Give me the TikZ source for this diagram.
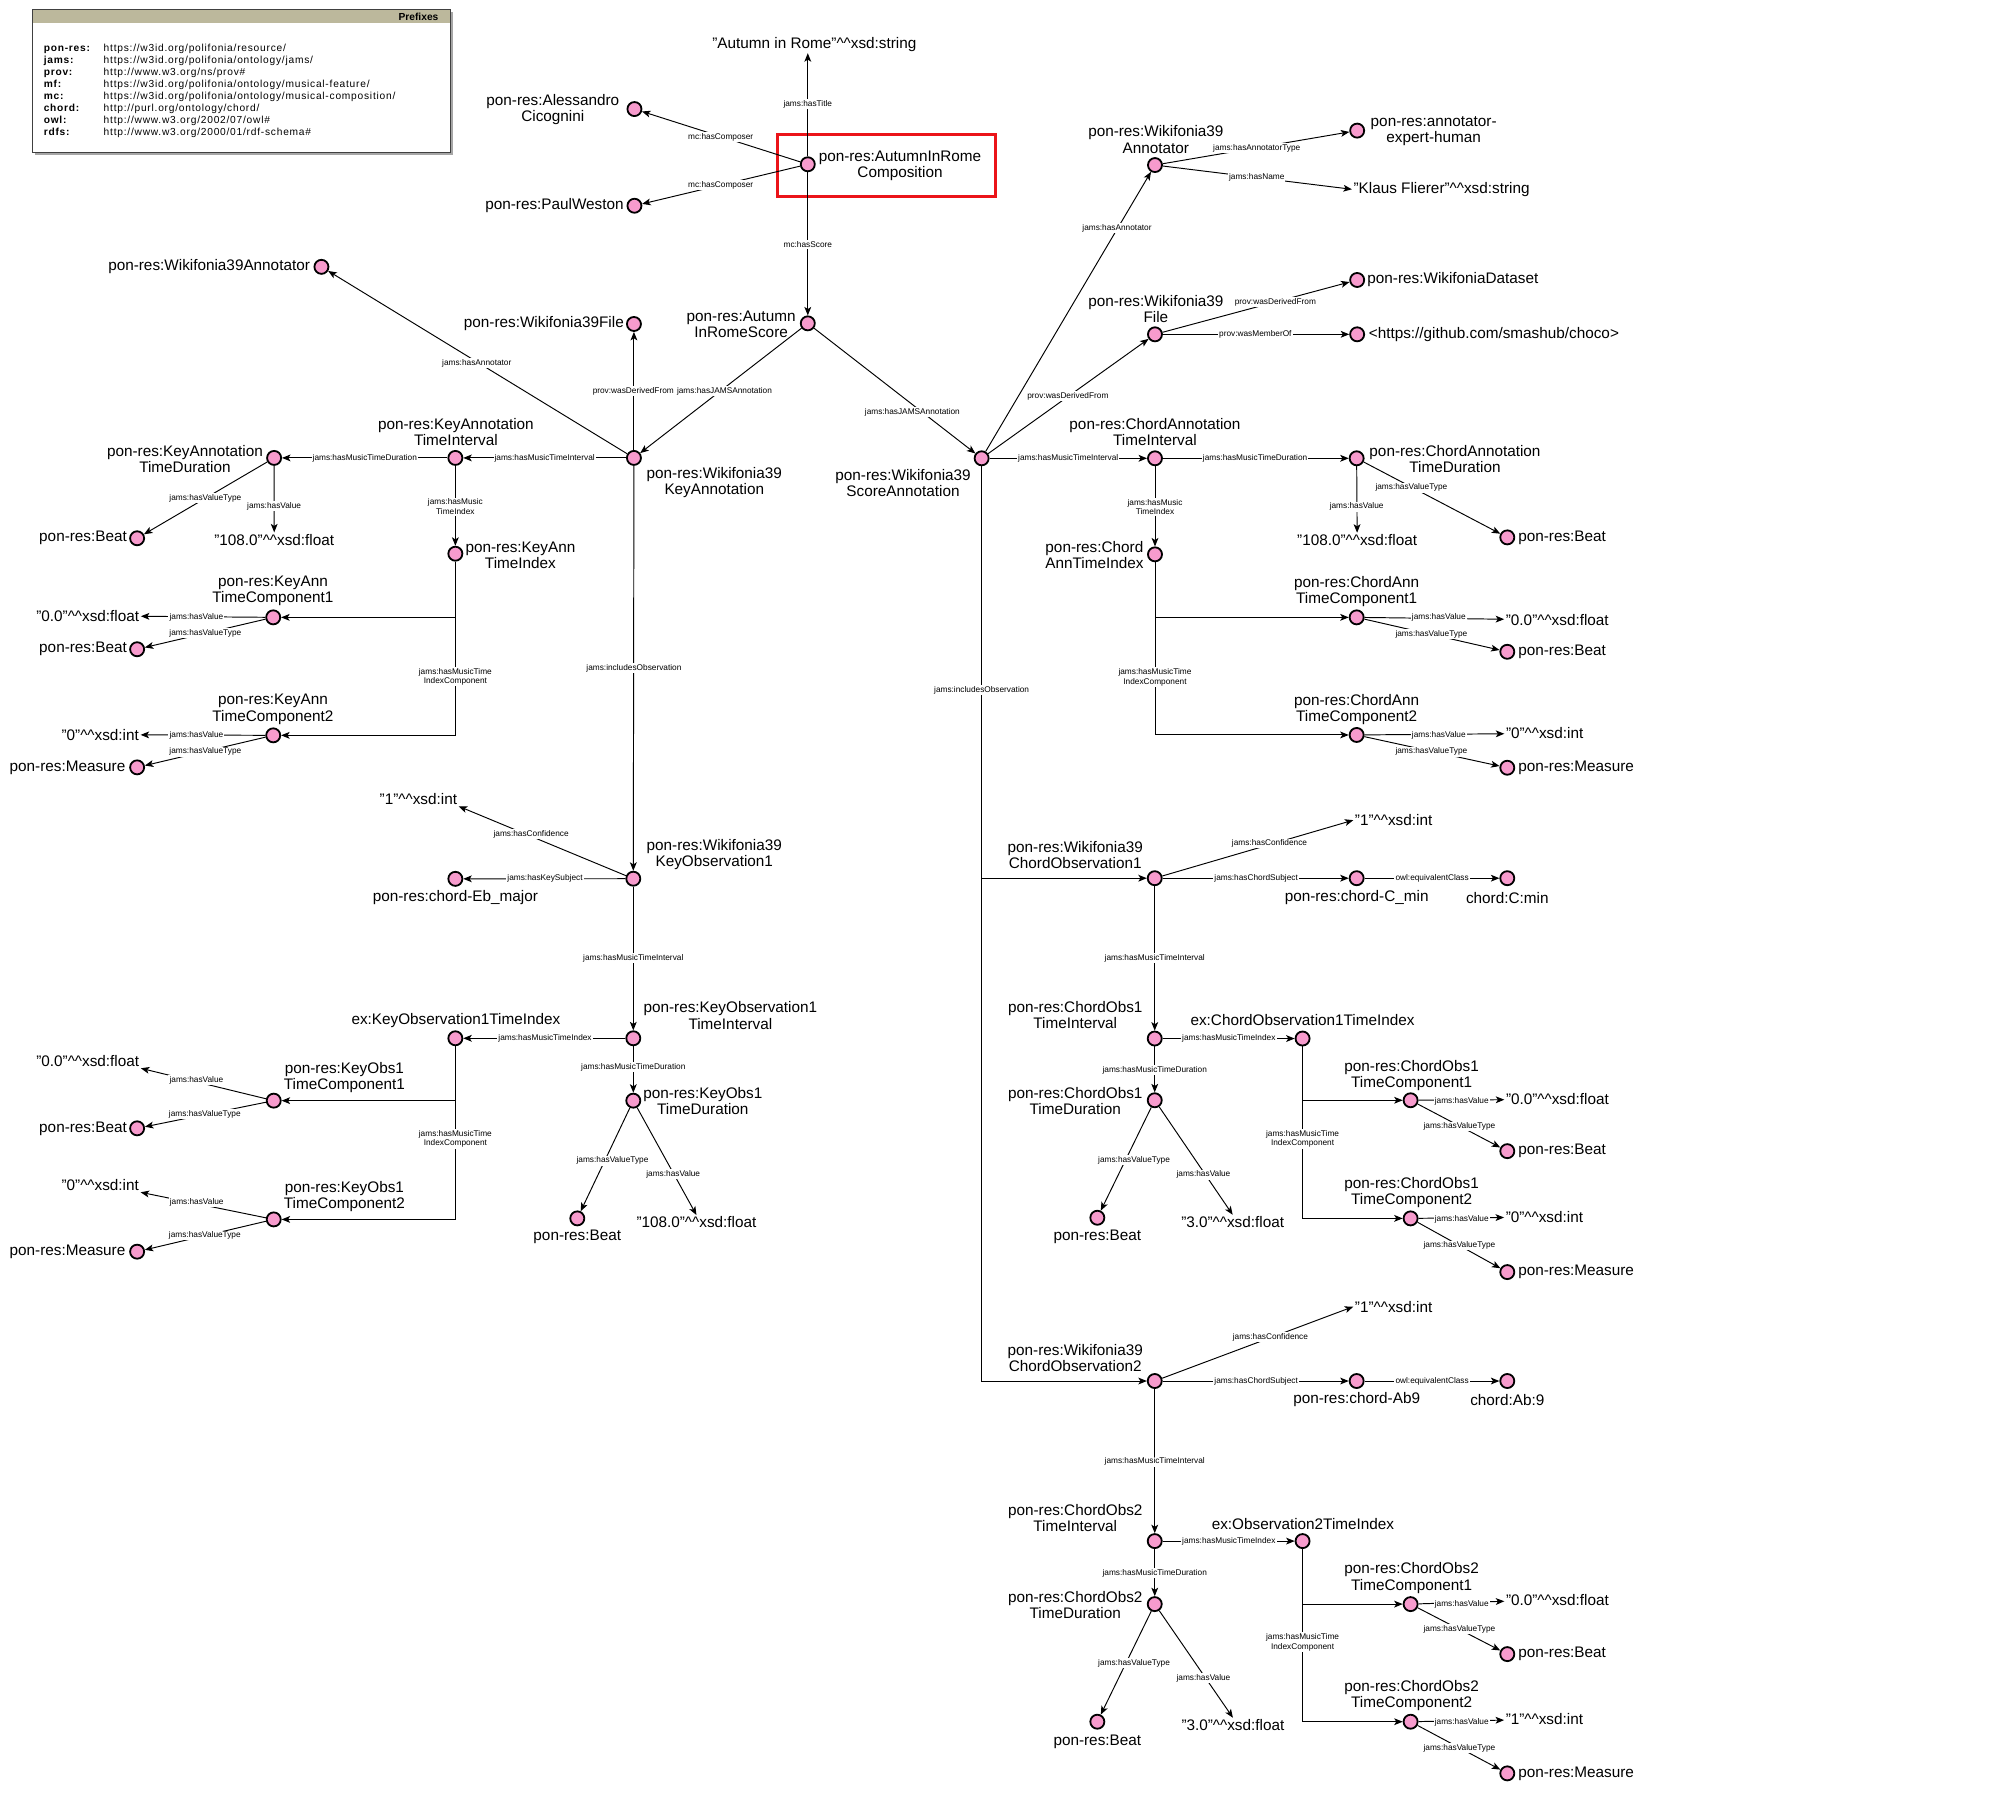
\documentclass[tikz,border=0pt]{standalone}
\usepackage{fontspec}
\setmainfont{Liberation Sans}
\usetikzlibrary{arrows.meta}
\definecolor{indiv}{RGB}{247,155,205}
\definecolor{hdr}{RGB}{188,184,156}
\definecolor{boxred}{RGB}{235,20,25}
\newcommand\xsdt[1]{\textasciicircum\textasciicircum xsd:#1}
\newcommand\pfxfont{\fontsize{4.8pt}{5.64pt}\selectfont\addfontfeatures{LetterSpace=7.5}}
\begin{document}
\begin{tikzpicture}[x=0.6pt,y=-0.6pt,
  res/.style={circle,draw=black,line width=0.85pt,fill=indiv,minimum size=6.6pt,inner sep=0pt},
  rtext/.style={font=\fontsize{7.2pt}{7.6pt}\selectfont,align=center,inner sep=0pt},
  lit/.style={font=\fontsize{7.2pt}{7.6pt}\selectfont,inner sep=0.6pt},
  elab/.style={font=\fontsize{3.9pt}{4.5pt}\selectfont,fill=white,inner sep=0.5pt,align=center},
  rel/.style={-{Stealth[length=4pt,width=3.2pt,inset=1pt]},line width=0.45pt},
]
\useasboundingbox (0,0) rectangle (1568,1405);
\fill[white] (0,0) rectangle (1568,1405);

% prefix legend
\fill[black!35] (27.4,9.3) rectangle (354.8,121.7);
\fill[white] (25.4,7.3) rectangle (352.8,119.7);
\fill[hdr] (25.4,7.3) rectangle (352.8,18.3);
\draw[black!75,line width=0.4pt] (25.4,7.3) rectangle (352.8,119.7);
\node[font=\fontsize{4.8pt}{5.64pt}\selectfont\bfseries,anchor=east,inner sep=0pt] (pfxhead) at (344,12.9) {Prefixes};
\node[font=\pfxfont,anchor=base west,inner sep=0pt] (pfxlist) at (34,40.2) {%
\begin{tabular}[t]{@{}p{28.2pt}@{}l@{}}
\textbf{pon-res:} & https://w3id.org/polifonia/resource/\\
\textbf{jams:} & https://w3id.org/polifonia/ontology/jams/\\
\textbf{prov:} & http://www.w3.org/ns/prov\#\\
\textbf{mf:} & https://w3id.org/polifonia/ontology/musical-feature/\\
\textbf{mc:} & https://w3id.org/polifonia/ontology/musical-composition/\\
\textbf{chord:} & http://purl.org/ontology/chord/\\
\textbf{owl:} & http://www.w3.org/2002/07/owl\#\\
\textbf{rdfs:} & http://www.w3.org/2000/01/rdf-schema\#
\end{tabular}};

% composition
\draw[boxred,line width=1.4pt] (609.3,105.3) rectangle (780.3,153.7);
\node[res] (comp) at (633.3,128.8) {};
\node[rtext] (comp-l) at (705.6,129.9) {pon-res:AutumnInRome\\Composition};
\node[lit] (title) at (638.5,34.8) {"Autumn in Rome"\xsdt{string}};
\node[res] (ales) at (497.4,85.5) {};
\node[rtext] (ales-l) at (433.4,85.6) {pon-res:Alessandro\\Cicognini};
\node[res] (paul) at (497.4,161.3) {};
\node[rtext,anchor=east] (paul-l) at (489.3,161.3) {pon-res:PaulWeston};
\node[res] (score) at (633.3,253.5) {};
\node[rtext] (score-l) at (581,254) {pon-res:Autumn\\InRomeScore};

% key annotation
\node[res] (wann) at (252,209.2) {};
\node[rtext,anchor=east] (wann-l) at (243.3,209.2) {pon-res:Wikifonia39Annotator};
\node[res] (wfile) at (497,254) {};
\node[rtext,anchor=east] (wfile-l) at (489.4,254) {pon-res:Wikifonia39File};
\node[res] (kann) at (497,359) {};
\node[rtext] (kann-l) at (560,378.3) {pon-res:Wikifonia39\\KeyAnnotation};
\node[res] (kati) at (357,359) {};
\node[rtext] (kati-l) at (357.4,338.8) {pon-res:KeyAnnotation\\TimeInterval};
\node[res] (katd) at (214.9,359) {};
\node[rtext] (katd-l) at (145,359.8) {pon-res:KeyAnnotation\\TimeDuration};
\node[res] (beat1) at (107.5,422) {};
\node[rtext,anchor=east] (beat1-l) at (99.8,422) {pon-res:Beat};
\node[lit] (v1) at (215,423.1) {"108.0"\xsdt{float}};
\node[res] (kti) at (357,434.1) {};
\node[rtext] (kti-l) at (408,435.2) {pon-res:KeyAnn\\TimeIndex};
\node[res] (ktc1) at (214.2,484) {};
\node[rtext] (ktc1-l) at (214,463.4) {pon-res:KeyAnn\\TimeComponent1};
\node[lit] (v2) at (68.8,482.8) {"0.0"\xsdt{float}};
\node[res] (beat2) at (107.5,509) {};
\node[rtext,anchor=east] (beat2-l) at (99.8,509) {pon-res:Beat};
\node[res] (ktc2) at (214.2,576.5) {};
\node[rtext] (ktc2-l) at (214,556.1) {pon-res:KeyAnn\\TimeComponent2};
\node[lit] (v3) at (78.6,576) {"0"\xsdt{int}};
\node[res] (meas1) at (107.5,601.6) {};
\node[rtext,anchor=east] (meas1-l) at (98.6,601.6) {pon-res:Measure};

% key observation
\node[res] (kobs) at (496.5,688.9) {};
\node[rtext] (kobs-l) at (560,670) {pon-res:Wikifonia39\\KeyObservation1};
\node[lit] (v4) at (328,626.4) {"1"\xsdt{int}};
\node[res] (ebmaj) at (357,689) {};
\node[rtext] (ebmaj-l) at (357,703.5) {pon-res:chord-Eb\_major};
\node[res] (koti) at (496.5,814) {};
\node[rtext] (koti-l) at (572.6,796.2) {pon-res:KeyObservation1\\TimeInterval};
\node[res] (kotix) at (357,814) {};
\node[rtext] (kotix-l) at (357.4,799.7) {ex:KeyObservation1TimeIndex};
\node[res] (kotd) at (496.5,862.9) {};
\node[rtext] (kotd-l) at (551,863.5) {pon-res:KeyObs1\\TimeDuration};
\node[res] (beat3) at (452.6,955.2) {};
\node[rtext] (beat3-l) at (452.6,970) {pon-res:Beat};
\node[lit] (v5) at (546,958.3) {"108.0"\xsdt{float}};
\node[res] (kotc1) at (214.6,862.9) {};
\node[rtext] (kotc1-l) at (270,844.5) {pon-res:KeyObs1\\TimeComponent1};
\node[lit] (v6) at (68.8,831.8) {"0.0"\xsdt{float}};
\node[res] (beat4) at (107.5,884.6) {};
\node[rtext,anchor=east] (beat4-l) at (99.8,884.6) {pon-res:Beat};
\node[res] (kotc2) at (214.6,956) {};
\node[rtext] (kotc2-l) at (270,938) {pon-res:KeyObs1\\TimeComponent2};
\node[lit] (v7) at (78.6,929) {"0"\xsdt{int}};
\node[res] (meas2) at (107.5,981.3) {};
\node[rtext,anchor=east] (meas2-l) at (98.6,981.3) {pon-res:Measure};

% score annotation
\node[res] (sann) at (769.6,359.3) {};
\node[rtext] (sann-l) at (708,378.5) {pon-res:Wikifonia39\\ScoreAnnotation};
\node[res] (rann) at (905.5,129.4) {};
\node[rtext] (rann-l) at (906.2,109.4) {pon-res:Wikifonia39\\Annotator};
\node[res] (expert) at (1064,102.4) {};
\node[rtext] (expert-l) at (1124,103) {pon-res:annotator-\\expert-human};
\node[lit] (v8) at (1130.2,148.4) {"Klaus Flierer"\xsdt{string}};
\node[res] (rfile) at (905.5,262.1) {};
\node[rtext] (rfile-l) at (906.2,242.3) {pon-res:Wikifonia39\\File};
\node[res] (wds) at (1064,219.5) {};
\node[rtext,anchor=west] (wds-l) at (1071.7,219.5) {pon-res:WikifoniaDataset};
\node[res] (choco) at (1064,262.1) {};
\node[rtext,anchor=west] (choco-l) at (1072.8,262.1) {<https://github.com/smashub/choco>};
\node[res] (cati) at (905.5,359.3) {};
\node[rtext] (cati-l) at (905.5,338.7) {pon-res:ChordAnnotation\\TimeInterval};
\node[res] (catd) at (1063.6,359.3) {};
\node[rtext] (catd-l) at (1140.7,359.6) {pon-res:ChordAnnotation\\TimeDuration};
\node[lit] (v9) at (1064,423.4) {"108.0"\xsdt{float}};
\node[res] (beat5) at (1181.7,421.3) {};
\node[rtext,anchor=west] (beat5-l) at (1190,421.3) {pon-res:Beat};
\node[res] (catix) at (905.5,434.6) {};
\node[rtext] (catix-l) at (858,435.1) {pon-res:Chord\\AnnTimeIndex};
\node[res] (catc1) at (1063.6,484) {};
\node[rtext] (catc1-l) at (1063.6,463.5) {pon-res:ChordAnn\\TimeComponent1};
\node[lit] (v10) at (1220.9,486) {"0.0"\xsdt{float}};
\node[res] (beat6) at (1181.7,511) {};
\node[rtext,anchor=west] (beat6-l) at (1190,511) {pon-res:Beat};
\node[res] (catc2) at (1063.6,576.2) {};
\node[rtext] (catc2-l) at (1063.6,556.3) {pon-res:ChordAnn\\TimeComponent2};
\node[lit] (v11) at (1211,575) {"0"\xsdt{int}};
\node[res] (meas3) at (1181.7,601.9) {};
\node[rtext,anchor=west] (meas3-l) at (1190,601.9) {pon-res:Measure};

% chord observation 1
\node[res] (co1) at (905.3,688.5) {};
\node[rtext] (co1-l) at (843,670) {pon-res:Wikifonia39\\ChordObservation1};
\node[lit] (v12) at (1092.6,643) {"1"\xsdt{int}};
\node[res] (cmin) at (1063.6,688.5) {};
\node[rtext] (cmin-l) at (1063.6,703.7) {pon-res:chord-C\_min};
\node[res] (ccmin) at (1181.7,688.5) {};
\node[rtext] (ccmin-l) at (1181.7,703.7) {chord:C:min};
\node[res] (co1ti) at (905.3,814.2) {};
\node[rtext] (co1ti-l) at (843,795.9) {pon-res:ChordObs1\\TimeInterval};
\node[res] (co1tix) at (1021.2,814.2) {};
\node[rtext] (co1tix-l) at (1021.2,800) {ex:ChordObservation1TimeIndex};
\node[res] (co1td) at (905.3,862.6) {};
\node[rtext] (co1td-l) at (843,863.3) {pon-res:ChordObs1\\TimeDuration};
\node[res] (beat7) at (860.3,954.7) {};
\node[rtext] (beat7-l) at (860.3,969.8) {pon-res:Beat};
\node[lit] (v13) at (966.4,958.1) {"3.0"\xsdt{float}};
\node[res] (co1tc1) at (1105.9,862.6) {};
\node[rtext] (co1tc1-l) at (1106.7,842.9) {pon-res:ChordObs1\\TimeComponent1};
\node[lit] (v14) at (1221,861.9) {"0.0"\xsdt{float}};
\node[res] (beat8) at (1181.7,902.5) {};
\node[rtext,anchor=west] (beat8-l) at (1190,902.5) {pon-res:Beat};
\node[res] (co1tc2) at (1105.9,955.2) {};
\node[rtext] (co1tc2-l) at (1106.7,935) {pon-res:ChordObs1\\TimeComponent2};
\node[lit] (v15) at (1210.8,954.2) {"0"\xsdt{int}};
\node[res] (meas4) at (1181.7,997.3) {};
\node[rtext,anchor=west] (meas4-l) at (1190,997.3) {pon-res:Measure};

% chord observation 2
\node[res] (co2) at (905.3,1082.7) {};
\node[rtext] (co2-l) at (843,1064.5) {pon-res:Wikifonia39\\ChordObservation2};
\node[lit] (v16) at (1092.6,1024.4) {"1"\xsdt{int}};
\node[res] (cab9) at (1063.6,1082.7) {};
\node[rtext] (cab9-l) at (1063.6,1097.6) {pon-res:chord-Ab9};
\node[res] (ccab9) at (1181.7,1082.7) {};
\node[rtext] (ccab9-l) at (1181.7,1097.6) {chord:Ab:9};
\node[res] (co2ti) at (905.3,1208.2) {};
\node[rtext] (co2ti-l) at (843,1190.4) {pon-res:ChordObs2\\TimeInterval};
\node[res] (co2tix) at (1021.2,1208.2) {};
\node[rtext] (co2tix-l) at (1021.5,1195.1) {ex:Observation2TimeIndex};
\node[res] (co2td) at (905.3,1257.6) {};
\node[rtext] (co2td-l) at (843,1258.4) {pon-res:ChordObs2\\TimeDuration};
\node[res] (beat9) at (860.3,1349.8) {};
\node[rtext] (beat9-l) at (860.3,1365.5) {pon-res:Beat};
\node[lit] (v17) at (966.6,1352.4) {"3.0"\xsdt{float}};
\node[res] (co2tc1) at (1105.9,1257.6) {};
\node[rtext] (co2tc1-l) at (1106.7,1237.2) {pon-res:ChordObs2\\TimeComponent1};
\node[lit] (v18) at (1221,1254.1) {"0.0"\xsdt{float}};
\node[res] (beat10) at (1181.7,1296.8) {};
\node[rtext,anchor=west] (beat10-l) at (1190,1296.8) {pon-res:Beat};
\node[res] (co2tc2) at (1105.9,1349.8) {};
\node[rtext] (co2tc2-l) at (1106.7,1329.6) {pon-res:ChordObs2\\TimeComponent2};
\node[lit] (v19) at (1210.8,1348) {"1"\xsdt{int}};
\node[res] (meas5) at (1181.7,1390.3) {};
\node[rtext,anchor=west] (meas5-l) at (1190,1390.3) {pon-res:Measure};

% relations
\draw[rel] (comp) -- (title.south -| comp);
\draw[rel] (comp) -- (ales);
\draw[rel] (comp) -- (paul);
\draw[rel] (comp) -- (score);
\draw[rel] (score) -- (kann);
\draw[rel] (score) -- (sann);

\draw[rel] (kann) -- (wann);
\draw[rel] (kann) -- (wfile);
\draw[rel] (kann) -- (kati);
\draw[rel] (kati) -- (katd);
\draw[rel] (katd) -- (beat1);
\draw[rel] (katd) -- (v1);
\draw[rel] (kati) -- (kti);
\draw[rel] (kti) |- (ktc2);
\draw[rel] (kti) |- (ktc1);
\draw[rel] (ktc1) -- (v2);
\draw[rel] (ktc1) -- (beat2);
\draw[rel] (ktc2) -- (v3);
\draw[rel] (ktc2) -- (meas1);

\draw[rel] (kann) -- (kobs);
\draw[rel] (kobs) -- (v4.south east);
\draw[rel] (kobs) -- (ebmaj);
\draw[rel] (kobs) -- (koti);
\draw[rel] (koti) -- (kotix);
\draw[rel] (koti) -- (kotd);
\draw[rel] (kotd) -- (beat3);
\draw[rel] (kotd) -- (v5.north);
\draw[rel] (kotix) |- (kotc2);
\draw[rel] (kotix) |- (kotc1);
\draw[rel] (kotc1) -- (v6.south east);
\draw[rel] (kotc1) -- (beat4);
\draw[rel] (kotc2) -- (v7.south east);
\draw[rel] (kotc2) -- (meas2);

\draw[rel] (sann) -- (rann);
\draw[rel] (rann) -- (expert);
\draw[rel] (rann) -- (v8.west);
\draw[rel] (sann) -- (rfile);
\draw[rel] (rfile) -- (wds);
\draw[rel] (rfile) -- (choco);
\draw[rel] (sann) -- (cati);
\draw[rel] (cati) -- (catd);
\draw[rel] (catd) -- (v9);
\draw[rel] (catd) -- (beat5);
\draw[rel] (cati) -- (catix);
\draw[rel] (catix) |- (catc2);
\draw[rel] (catix) |- (catc1);
\draw[rel] (catc1) -- (v10);
\draw[rel] (catc1) -- (beat6);
\draw[rel] (catc2) -- (v11);
\draw[rel] (catc2) -- (meas3);

\draw[rel] (sann) |- (co2);
\draw[rel] (sann) |- (co1);
\draw[rel] (co1) -- (v12.west);
\draw[rel] (co1) -- (cmin);
\draw[rel] (cmin) -- (ccmin);
\draw[rel] (co1) -- (co1ti);
\draw[rel] (co1ti) -- (co1tix);
\draw[rel] (co1ti) -- (co1td);
\draw[rel] (co1td) -- (beat7);
\draw[rel] (co1td) -- (v13.north);
\draw[rel] (co1tix) |- (co1tc2);
\draw[rel] (co1tix) |- (co1tc1);
\draw[rel] (co1tc1) -- (v14);
\draw[rel] (co1tc1) -- (beat8);
\draw[rel] (co1tc2) -- (v15);
\draw[rel] (co1tc2) -- (meas4);

\draw[rel] (co2) -- (v16.west);
\draw[rel] (co2) -- (cab9);
\draw[rel] (cab9) -- (ccab9);
\draw[rel] (co2) -- (co2ti);
\draw[rel] (co2ti) -- (co2tix);
\draw[rel] (co2ti) -- (co2td);
\draw[rel] (co2td) -- (beat9);
\draw[rel] (co2td) -- (v17.north);
\draw[rel] (co2tix) |- (co2tc2);
\draw[rel] (co2tix) |- (co2tc1);
\draw[rel] (co2tc1) -- (v18);
\draw[rel] (co2tc1) -- (beat10);
\draw[rel] (co2tc2) -- (v19);
\draw[rel] (co2tc2) -- (meas5);

% relation labels
\node[elab] (e1) at (633.3,81.8) {jams:hasTitle};
\node[elab] (e2) at (565,107.7) {mc:hasComposer};
\node[elab] (e3) at (565,145.3) {mc:hasComposer};
\node[elab] (e4) at (633.3,191.6) {mc:hasScore};
\node[elab] (e5) at (373.8,284.8) {jams:hasAnnotator};
\node[elab] (e6) at (496.5,306.5) {prov:wasDerivedFrom};
\node[elab] (e7) at (568,306.5) {jams:hasJAMSAnnotation};
\node[elab] (e8) at (715.3,323.3) {jams:hasJAMSAnnotation};
\node[elab] (e9) at (427,359) {jams:hasMusicTimeInterval};
\node[elab] (e10) at (286,359) {jams:hasMusicTimeDuration};
\node[elab] (e11) at (161,390.7) {jams:hasValueType};
\node[elab] (e12) at (214.9,396.7) {jams:hasValue};
\node[elab] (e13) at (357,397.2) {jams:hasMusic\\TimeIndex};
\node[elab] (e14) at (154,484) {jams:hasValue};
\node[elab] (e15) at (161,496.3) {jams:hasValueType};
\node[elab] (e16) at (357,530.5) {jams:hasMusicTime\\IndexComponent};
\node[elab] (e17) at (154,576.5) {jams:hasValue};
\node[elab] (e18) at (161,589.3) {jams:hasValueType};
\node[elab] (e19) at (497,524) {jams:includesObservation};
\node[elab] (e20) at (416.4,654.1) {jams:hasConfidence};
\node[elab] (e21) at (427.3,689) {jams:hasKeySubject};
\node[elab] (e22) at (496.5,751.3) {jams:hasMusicTimeInterval};
\node[elab] (e23) at (427.3,814) {jams:hasMusicTimeIndex};
\node[elab] (e24) at (496.5,836.4) {jams:hasMusicTimeDuration};
\node[elab] (e25) at (480.2,910) {jams:hasValueType};
\node[elab] (e26) at (527.8,920.7) {jams:hasValue};
\node[elab] (e27) at (357,892.8) {jams:hasMusicTime\\IndexComponent};
\node[elab] (e28) at (154,847) {jams:hasValue};
\node[elab] (e29) at (160.6,873.4) {jams:hasValueType};
\node[elab] (e30) at (154.2,942.6) {jams:hasValue};
\node[elab] (e31) at (160.6,968.6) {jams:hasValueType};

\node[elab] (e32) at (875.7,179) {jams:hasAnnotator};
\node[elab] (e33) at (985.3,116.3) {jams:hasAnnotatorType};
\node[elab] (e34) at (985.3,139) {jams:hasName};
\node[elab] (e35) at (837.2,310.5) {prov:wasDerivedFrom};
\node[elab] (e36) at (999.9,237) {prov:wasDerivedFrom};
\node[elab] (e37) at (984.2,262.1) {prov:wasMemberOf};
\node[elab] (e38) at (837.5,359.3) {jams:hasMusicTimeInterval};
\node[elab] (e39) at (984,359.3) {jams:hasMusicTimeDuration};
\node[elab] (e40) at (1063.6,397.2) {jams:hasValue};
\node[elab] (e41) at (1106.5,382.3) {jams:hasValueType};
\node[elab] (e42) at (905.5,397.6) {jams:hasMusic\\TimeIndex};
\node[elab] (e43) at (1128,484) {jams:hasValue};
\node[elab] (e44) at (1122.2,497.3) {jams:hasValueType};
\node[elab] (e45) at (905.5,530.9) {jams:hasMusicTime\\IndexComponent};
\node[elab] (e46) at (1128,576.2) {jams:hasValue};
\node[elab] (e47) at (1122.2,589.3) {jams:hasValueType};
\node[elab] (e48) at (769.6,541) {jams:includesObservation};

\node[elab] (e49) at (995.3,661.3) {jams:hasConfidence};
\node[elab] (e50) at (984.8,688.6) {jams:hasChordSubject};
\node[elab] (e51) at (1122.8,688.6) {owl:equivalentClass};
\node[elab] (e52) at (905.3,751.2) {jams:hasMusicTimeInterval};
\node[elab] (e53) at (963.4,814.2) {jams:hasMusicTimeIndex};
\node[elab] (e54) at (905.3,838.9) {jams:hasMusicTimeDuration};
\node[elab] (e55) at (889.1,909.4) {jams:hasValueType};
\node[elab] (e56) at (943.5,920.9) {jams:hasValue};
\node[elab] (e57) at (1021.2,892.8) {jams:hasMusicTime\\IndexComponent};
\node[elab] (e58) at (1146,863.1) {jams:hasValue};
\node[elab] (e59) at (1144.2,883.2) {jams:hasValueType};
\node[elab] (e60) at (1146,956) {jams:hasValue};
\node[elab] (e61) at (1144.2,976.5) {jams:hasValueType};

\node[elab] (e62) at (996,1048.5) {jams:hasConfidence};
\node[elab] (e63) at (984.8,1082.7) {jams:hasChordSubject};
\node[elab] (e64) at (1122.8,1082.7) {owl:equivalentClass};
\node[elab] (e65) at (905.3,1146) {jams:hasMusicTimeInterval};
\node[elab] (e66) at (963.4,1208.2) {jams:hasMusicTimeIndex};
\node[elab] (e67) at (905.3,1233.5) {jams:hasMusicTimeDuration};
\node[elab] (e68) at (889.1,1304) {jams:hasValueType};
\node[elab] (e69) at (943.5,1315.8) {jams:hasValue};
\node[elab] (e70) at (1021.2,1287.4) {jams:hasMusicTime\\IndexComponent};
\node[elab] (e71) at (1146,1257.6) {jams:hasValue};
\node[elab] (e72) at (1144.2,1277.4) {jams:hasValueType};
\node[elab] (e73) at (1146,1350.4) {jams:hasValue};
\node[elab] (e74) at (1144.2,1370.7) {jams:hasValueType};
\end{tikzpicture}
\end{document}
